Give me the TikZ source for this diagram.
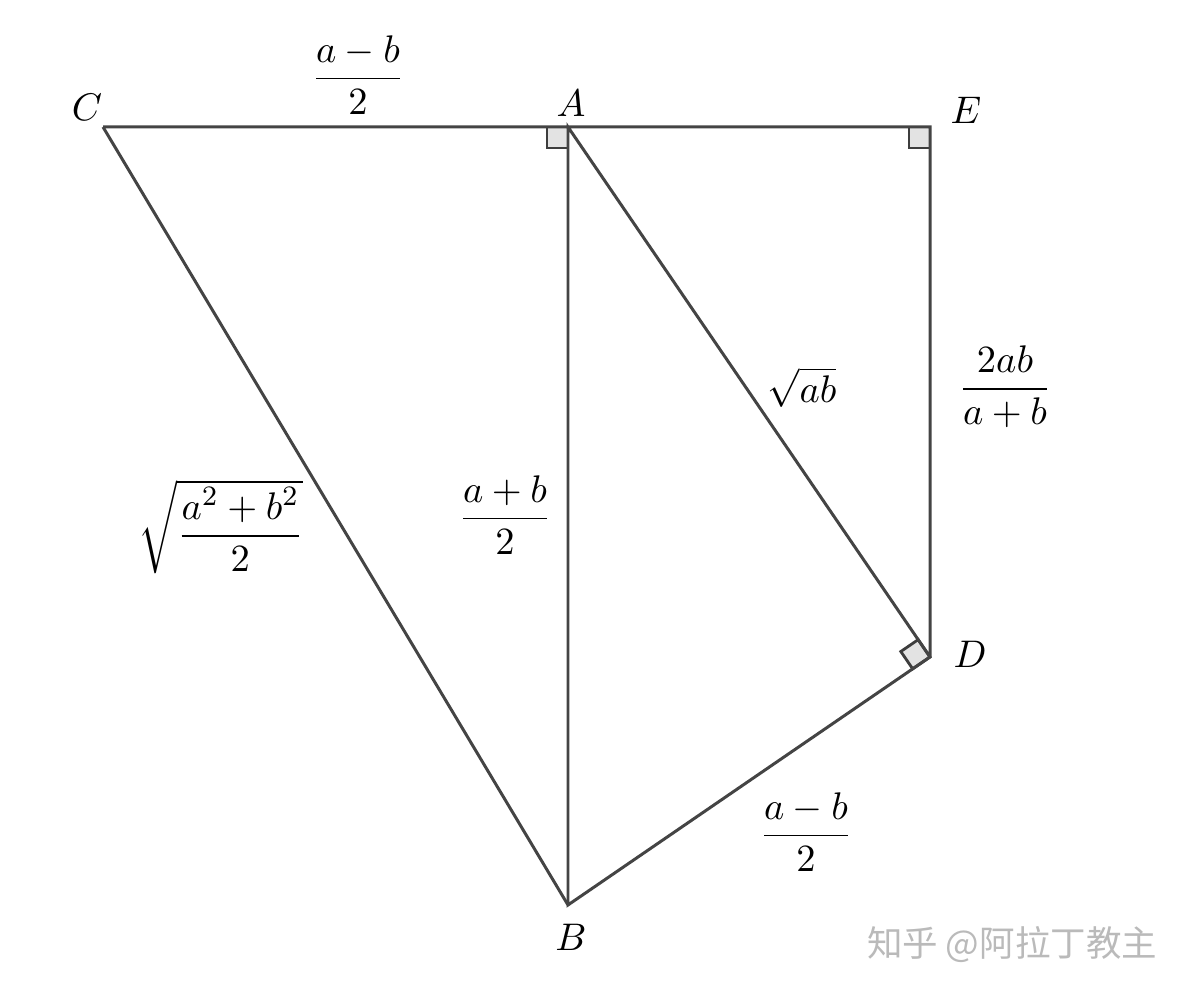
\documentclass[tikz,border=0pt]{standalone}
\usepackage{fontspec}
\usepackage{amsmath,amssymb}
\newfontfamily\cjk{Noto Sans CJK SC}
\usetikzlibrary{calc}
\definecolor{edgegray}{HTML}{444444}
\definecolor{markgray}{HTML}{E3E3E3}
\tikzset{
    side/.append style={draw=edgegray,line width=0.85pt},
    rightmark/.append style={draw=edgegray!90!black,fill=markgray,line width=0.8pt},
    vertex/.append style={font=\fontsize{11.3}{13}\selectfont},
    label/.append style={font=\fontsize{11}{13}\selectfont,inner sep=1pt},
}
\begin{document}
\begin{tikzpicture}
\useasboundingbox (0,0) rectangle (11.86,9.94);

           \coordinate (C) at (1.03, 8.67);
           \coordinate (A) at (5.68, 8.67);
           \coordinate (E) at (9.30, 8.67);
           \coordinate (D) at (9.30, 3.37);
           \coordinate (B) at (5.68, 0.89);

           % right angle marks
           \coordinate (Da) at ($(D)!0.21cm!(A)$);
           \coordinate (Db) at ($(D)!0.21cm!(B)$);
           \coordinate (Dc) at ($(Da)+(Db)-(D)$);
           \path[rightmark] (A) rectangle ++(-0.21,-0.21);
           \path[rightmark] (E) rectangle ++(-0.21,-0.21);
           \path[rightmark] (D) -- (Da) -- (Dc) -- (Db) -- cycle;

           \draw[side] (C) -- (A) -- (E) -- (D) -- (B) -- (A) -- (D);
           \draw[side] (C) -- (B);

           \node[vertex] (lC) at (0.87, 8.87) {$C$};
           \node[vertex] (lA) at (5.71, 8.91) {$A$};
           \node[vertex] (lE) at (9.66, 8.84) {$E$};
           \node[vertex] (lD) at (9.70, 3.40) {$D$};
           \node[vertex] (lB) at (5.71, 0.57) {$B$};

           \node[label] (ca) at (3.58, 9.19) {$\dfrac{a-b}{2}$};
           \node[label] (ad) at (8.02, 6.07) {$\sqrt{ab}$};
           \node[label] (ed) at (10.05, 6.07) {$\dfrac{2ab}{a+b}$};
           \node[label] (ab) at (5.05, 4.79) {$\dfrac{a+b}{2}$};
           \node[label] (cb) at (2.21, 4.67) {$\sqrt{\dfrac{a^2+b^2}{2}}$};
           \node[label] (db) at (8.06, 1.62) {$\dfrac{a-b}{2}$};

\node[text=black!27] (mark) at (10.12, 0.49) {\fontsize{10.1}{12}\cjk 知乎 @阿拉丁教主};

       \end{tikzpicture}
\end{document}
